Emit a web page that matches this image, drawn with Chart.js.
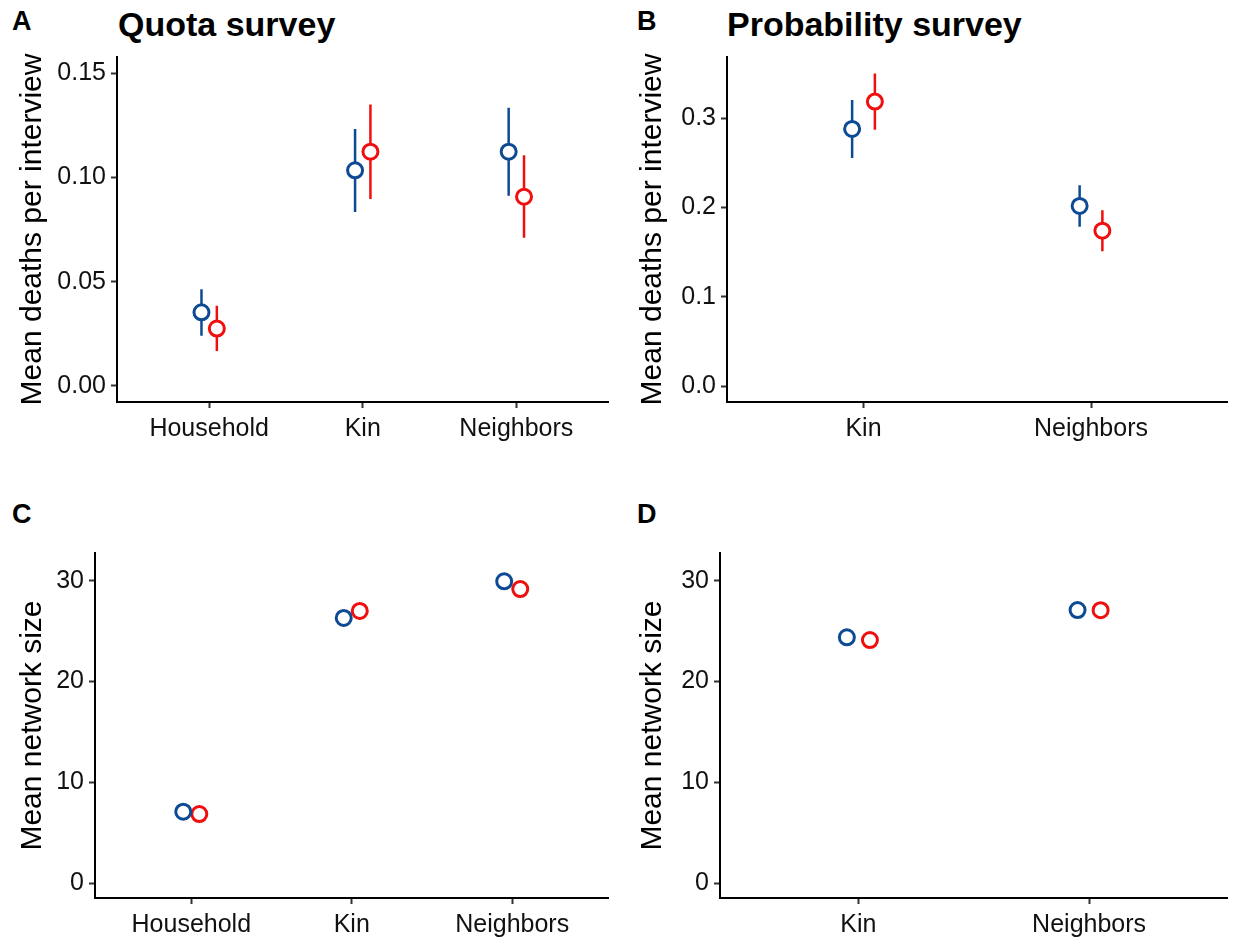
<!DOCTYPE html>
<html>
<head>
<meta charset="utf-8">
<script src="https://cdn.jsdelivr.net/npm/chart.js@4.4.0/dist/chart.umd.min.js"></script>
<style>
  body { margin: 0; background: #fff; font-family: "Liberation Sans", Arial, sans-serif; }
  #fig { position: relative; width: 1238px; height: 940px; overflow: hidden; }
  .panel { position: absolute; }
  .tag { position: absolute; font-weight: bold; font-size: 27px; line-height: 1; color: #000; }
  .title { position: absolute; font-weight: bold; font-size: 34px; line-height: 1; color: #000; }
</style>
</head>
<body>
<div id="fig">
  <div class="tag" style="left:12px; top:8px;">A</div>
  <div class="title" style="left:118px; top:7px;">Quota survey</div>
  <div class="tag" style="left:637px; top:8px;">B</div>
  <div class="title" style="left:727px; top:7px;">Probability survey</div>
  <div class="tag" style="left:12px; top:501px;">C</div>
  <div class="tag" style="left:637px; top:501px;">D</div>

  <div class="panel" style="left:0; top:0; width:619px; height:460px;"><canvas id="chartA"></canvas></div>
  <div class="panel" style="left:620px; top:0; width:618px; height:460px;"><canvas id="chartB"></canvas></div>
  <div class="panel" style="left:0; top:470px; width:619px; height:470px;"><canvas id="chartC"></canvas></div>
  <div class="panel" style="left:620px; top:470px; width:618px; height:470px;"><canvas id="chartD"></canvas></div>
</div>

<script>
// categories
const quotaCategories = ['Household', 'Kin', 'Neighbors'];
const probCategories = ['Kin', 'Neighbors'];

// A: mean deaths per interview, quota survey (estimate + interval)
const quotaDeathsBlue = [0.0353, 0.1034, 0.1123];
const quotaDeathsBlueLow = [0.0241, 0.0834, 0.0912];
const quotaDeathsBlueHigh = [0.0464, 0.1232, 0.1334];
const quotaDeathsRed = [0.0275, 0.1123, 0.0907];
const quotaDeathsRedLow = [0.0168, 0.0896, 0.0711];
const quotaDeathsRedHigh = [0.0384, 0.1349, 0.1106];

// B: mean deaths per interview, probability survey
const probDeathsBlue = [0.2881, 0.2018];
const probDeathsBlueLow = [0.2556, 0.1786];
const probDeathsBlueHigh = [0.3206, 0.2250];
const probDeathsRed = [0.3187, 0.1741];
const probDeathsRedLow = [0.2873, 0.1510];
const probDeathsRedHigh = [0.3501, 0.1970];

// C / D: mean network size
const quotaNetworkBlue = [7.1, 26.3, 29.93];
const quotaNetworkRed = [6.87, 27.0, 29.17];
const probNetworkBlue = [24.38, 27.09];
const probNetworkRed = [24.11, 27.07];

// tick labels
const quotaDeathTicks = [0, 0.05, 0.10, 0.15];
const probDeathTicks = [0, 0.1, 0.2, 0.3];
const networkTicks = [0, 10, 20, 30];

const BLUE = '#0d4a94';
const RED = '#f00f0f';
const DODGE = 0.05;
const FONT = '"Liberation Sans", Arial, sans-serif';

// vertical interval lines drawn under the points
const errorBars = {
    id: 'errorBars',
    beforeDatasetsDraw(chart) {
        const { ctx, chartArea, scales: { x, y } } = chart;
        ctx.save();
        ctx.beginPath();
        ctx.rect(chartArea.left, chartArea.top, chartArea.width, chartArea.height);
        ctx.clip();
        chart.data.datasets.forEach(ds => {
            if (!ds.low) return;
            ctx.strokeStyle = ds.borderColor;
            ctx.lineWidth = 2.5;
            ds.data.forEach((pt, i) => {
                const px = x.getPixelForValue(pt.x);
                ctx.beginPath();
                ctx.moveTo(px, y.getPixelForValue(ds.low[i]));
                ctx.lineTo(px, y.getPixelForValue(ds.high[i]));
                ctx.stroke();
            });
        });
        ctx.restore();
    }
};

function series(values, color, shift, low, high) {
    return {
        type: 'scatter',
        data: values.map((v, i) => ({ x: i + 1 + shift, y: v })),
        borderColor: color,
        backgroundColor: '#fff',
        pointBackgroundColor: '#fff',
        pointBorderColor: color,
        pointBorderWidth: 3,
        pointRadius: 7.5,
        pointHoverRadius: 7.5,
        low: low,
        high: high
    };
}

function makePanel(id, categories, datasets, cfg) {
    const axisGrid = { drawOnChartArea: false, tickLength: 6, tickWidth: 2, tickColor: '#333' };
    const axisBorder = { display: true, color: '#000', width: 2 };
    const tickFont = { family: FONT, size: 25 };
    return new Chart(document.getElementById(id), {
        type: 'scatter',
        data: { datasets: datasets },
        plugins: [errorBars],
        options: {
            responsive: true,
            maintainAspectRatio: false,
            animation: false,
            events: [],
            layout: { padding: { left: 0, right: cfg.right, top: cfg.top, bottom: cfg.bottom } },
            plugins: { legend: { display: false }, tooltip: { enabled: false } },
            scales: {
                x: {
                    type: 'linear',
                    min: 0.4,
                    max: categories.length + 0.6,
                    afterBuildTicks: s => { s.ticks = categories.map((c, i) => ({ value: i + 1 })); },
                    ticks: {
                        callback: v => categories[Math.round(v) - 1],
                        font: tickFont, color: '#111', padding: 6,
                        maxRotation: 0, autoSkip: false
                    },
                    grid: axisGrid,
                    border: axisBorder,
                    afterFit: s => { s.height = cfg.xHeight; }
                },
                y: {
                    min: cfg.yMin,
                    max: cfg.yMax,
                    afterBuildTicks: s => { s.ticks = cfg.yTicks.map(v => ({ value: v })); },
                    ticks: {
                        callback: v => v.toFixed(cfg.decimals),
                        font: tickFont, color: '#111', padding: 5
                    },
                    grid: axisGrid,
                    border: axisBorder,
                    title: {
                        display: true, text: cfg.yTitle, color: '#000',
                        font: { family: FONT, size: 30 },
                        padding: { top: 15, bottom: 0 }
                    },
                    afterFit: s => { s.width = cfg.yWidth; }
                }
            }
        }
    });
}

makePanel('chartA', quotaCategories, [
    series(quotaDeathsBlue, BLUE, -DODGE, quotaDeathsBlueLow, quotaDeathsBlueHigh),
    series(quotaDeathsRed, RED, DODGE, quotaDeathsRedLow, quotaDeathsRedHigh)
], { yMin: -0.0077, yMax: 0.1577, yTicks: quotaDeathTicks, decimals: 2,
     yTitle: 'Mean deaths per interview', yWidth: 117, right: 7, top: 57, bottom: 12, xHeight: 46 });

makePanel('chartB', probCategories, [
    series(probDeathsBlue, BLUE, -DODGE, probDeathsBlueLow, probDeathsBlueHigh),
    series(probDeathsRed, RED, DODGE, probDeathsRedLow, probDeathsRedHigh)
], { yMin: -0.0179, yMax: 0.3687, yTicks: probDeathTicks, decimals: 1,
     yTitle: 'Mean deaths per interview', yWidth: 107, right: 1, top: 57, bottom: 12, xHeight: 46 });

makePanel('chartC', quotaCategories, [
    series(quotaNetworkBlue, BLUE, -DODGE),
    series(quotaNetworkRed, RED, DODGE)
], { yMin: -1.45, yMax: 32.74, yTicks: networkTicks, decimals: 0,
     yTitle: 'Mean network size', yWidth: 95, right: 7, top: 83, bottom: 2, xHeight: 40 });

makePanel('chartD', probCategories, [
    series(probNetworkBlue, BLUE, -DODGE),
    series(probNetworkRed, RED, DODGE)
], { yMin: -1.45, yMax: 32.74, yTicks: networkTicks, decimals: 0,
     yTitle: 'Mean network size', yWidth: 100, right: 1, top: 83, bottom: 2, xHeight: 40 });
</script>
</body>
</html>
